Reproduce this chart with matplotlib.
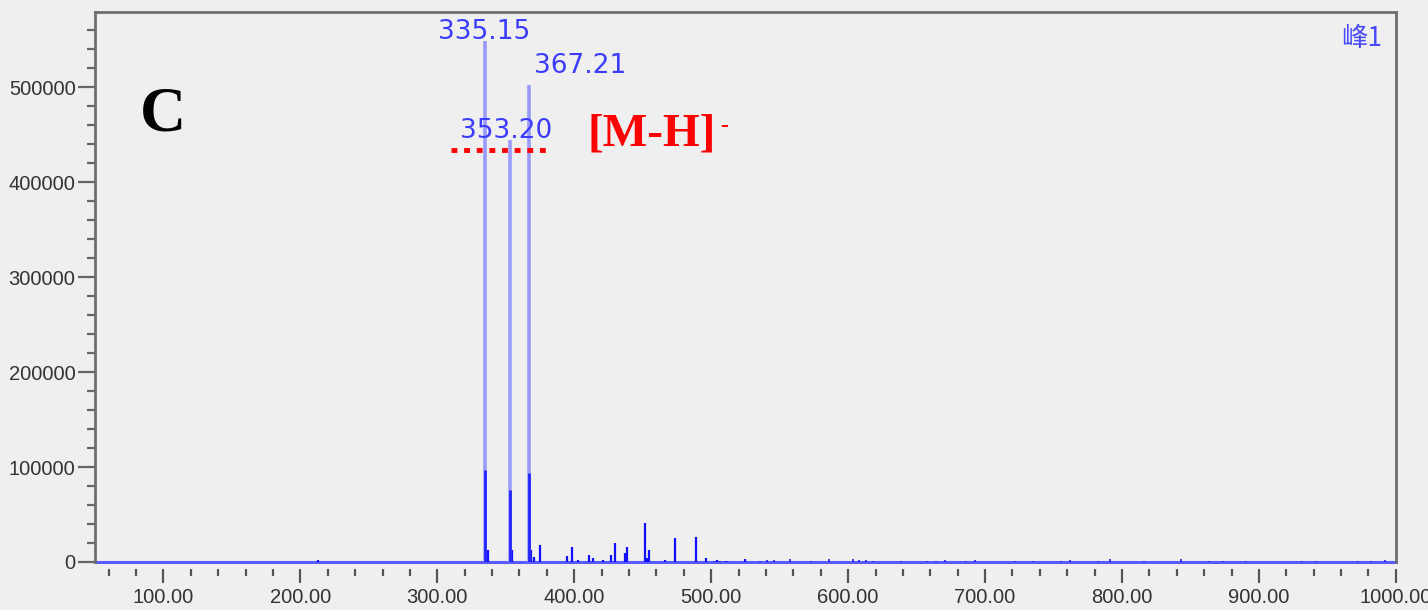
import matplotlib.pyplot as plt

# m/z and intensity of the labelled main ions
main_mz = [335.15, 353.20, 367.21]
main_int = [549000, 444000, 502000]
main_inner = [97000, 76000, 94000]   # darker lower part of each main peak

# minor ions (m/z, intensity)
minor_mz = [213, 337, 354.5, 368.5, 370.5, 375, 394.5, 398, 402.5, 410.5, 413.5,
            421, 426.5, 430, 437, 438.5, 451.5, 453, 454.5, 466, 473.3, 489,
            496, 504, 511, 525]
minor_int = [2000, 13000, 13000, 13000, 5000, 18000, 6000, 16000, 2000, 7000, 4000,
             2000, 7000, 20000, 9000, 16000, 41000, 4000, 13000, 2000, 25000, 26000,
             4000, 2000, 1500, 3000]

# small noise ions along the tail
tail_mz = [501.7, 506.7, 511.8, 525.3, 535.5, 540.6, 545.6, 557.5, 572.7, 586.3,
           603.2, 608.2, 613.3, 618.4, 638.7, 657.3, 664.1, 670.9, 686.1, 692.8,
           721.6, 735.2, 755.5, 762.2, 782.5, 791.0, 816.4, 843.4, 863.7, 873.9,
           890.8, 931.4, 941.6, 972.0, 982.2, 992.4]
tail_int = [1500, 1500, 1200, 1500, 1500, 2000, 2000, 3000, 1500, 3500,
            3500, 2000, 2000, 1500, 1200, 1500, 1500, 2000, 1500, 2500,
            1500, 1500, 1500, 2000, 1500, 3500, 1500, 3500, 1500, 1500,
            1500, 1500, 1500, 1500, 1500, 2000]

main_labels = ['335.15', '353.20', '367.21']

xt = [100, 200, 300, 400, 500, 600, 700, 800, 900, 1000]
yt = [0, 100000, 200000, 300000, 400000, 500000]

plt.rcParams['font.family'] = ['Liberation Sans', 'DejaVu Sans']

bg = '#efefef'
fig = plt.figure(figsize=(14.28, 6.10), dpi=100, facecolor=bg)
ax = fig.add_axes([0.0665, 0.0787, 0.911, 0.9016], facecolor=bg)

# baseline
ax.plot([50, 1000], [0, 0], color='#5a5aff', lw=2.2, clip_on=False, zorder=2)

ax.vlines(tail_mz, 0, tail_int, color='#2020ff', lw=1.2, zorder=3)
ax.vlines(minor_mz, 0, minor_int, color='#1010ff', lw=1.6, zorder=3)
ax.vlines(main_mz, 0, main_int, color='#9a9aff', lw=2.6, zorder=3)
ax.vlines(main_mz, 0, main_inner, color='#2424ff', lw=2.0, zorder=4)

lab_color = '#3c3cff'
lab_kw = dict(textcoords='offset points', va='bottom', fontsize=19,
              family='DejaVu Sans', color=lab_color, zorder=5)
ax.annotate(main_labels[0], (main_mz[0], main_int[0]), xytext=(-1, -3),
            ha='center', **lab_kw)
ax.annotate(main_labels[1], (main_mz[1], main_int[1]), xytext=(-3, -2.5),
            ha='center', **lab_kw)
ax.annotate(main_labels[2], (main_mz[2], main_int[2]), xytext=(3, 4.5),
            ha='left', **lab_kw)

# red dotted marker under 353.20
ax.plot([310, 383.5], [433500, 433500], color='red', lw=3.5,
        dashes=(1.2, 1.4), dash_capstyle='butt', zorder=6)

t = ax.text(410, 433500 + 5000, '[M-H]', family='Liberation Serif',
            fontweight='bold', fontsize=34, color='red', va='baseline', ha='left')
ax.annotate('-', xy=(1, 1), xycoords=t, xytext=(3, -2), textcoords='offset points',
            family='Liberation Serif', fontweight='bold', fontsize=17,
            color='red', ha='left', va='top')

ax.text(0.0345, 0.785, 'C', transform=ax.transAxes, family='Liberation Serif',
        fontweight='bold', fontsize=46, color='black', ha='left', va='baseline')

ax.text(0.9895, 0.977, '峰1', transform=ax.transAxes,
        family=['Noto Sans CJK SC', 'DejaVu Sans'], fontsize=19,
        color='#4a4aff', ha='right', va='top')

ax.set_xlim(50, 1000)
ax.set_ylim(0, 579000)

ax.set_xticks(xt)
ax.set_xticklabels([f'{v:.2f}' for v in xt])
ax.set_xticks(range(60, 1001, 20), minor=True)
ax.set_yticks(yt)
ax.set_yticklabels([str(v) for v in yt])
ax.set_yticks(range(0, 579000, 20000), minor=True)

tick_col = '#333333'
ax.tick_params(axis='both', which='major', labelsize=14.5, labelcolor=tick_col)
ax.tick_params(axis='x', which='major', length=10, width=1.6, color='#555555', pad=4)
ax.tick_params(axis='x', which='minor', length=5, width=1.6, color='#555555')
ax.tick_params(axis='y', which='major', length=12, width=1.6, color='#666666', pad=2)
ax.tick_params(axis='y', which='minor', length=6, width=1.6, color='#666666')

for s in ['left', 'top', 'right']:
    ax.spines[s].set_color('#6e6e6e')
    ax.spines[s].set_linewidth(2)
ax.spines['bottom'].set_color('none')
ax.spines['bottom'].set_position(('outward', 5))

fig.savefig('out.png', dpi=100, facecolor=bg)
